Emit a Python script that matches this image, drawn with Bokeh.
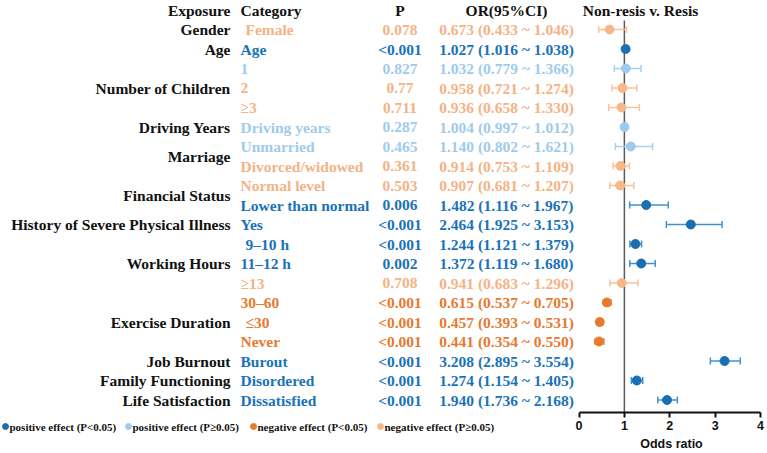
import numpy as np
from bokeh.plotting import figure
from bokeh.layouts import row, column
from bokeh.models import Range1d, LinearAxis, FixedTicker, ColumnDataSource
from bokeh.core.properties import value
from bokeh.embed import file_html
from bokeh.resources import INLINE

# ---- data -------------------------------------------------------------
groups = ["Gender", "Age", "Number of Children", "Driving Years", "Marriage",
          "Financial Status", "History of Severe Physical Illness",
          "Working Hours", "Exercise Duration", "Job Burnout",
          "Family Functioning", "Life Satisfaction"]
group_sizes = [1, 1, 3, 1, 2, 2, 1, 3, 3, 1, 1, 1]

categories = ["Female", "Age", "1", "2", "≥3", "Driving years", "Unmarried",
              "Divorced/widowed", "Normal level", "Lower than normal", "Yes",
              "9–10 h", "11–12 h", "≥13", "30–60", "≤30", "Never", "Burout",
              "Disordered", "Dissatisfied"]
p_values = ["0.078", "<0.001", "0.827", "0.77", "0.711", "0.287", "0.465",
            "0.361", "0.503", "0.006", "<0.001", "<0.001", "0.002", "0.708",
            "<0.001", "<0.001", "<0.001", "<0.001", "<0.001", "<0.001"]
odds = [0.673, 1.027, 1.032, 0.958, 0.936, 1.004, 1.140, 0.914, 0.907, 1.482,
        2.464, 1.244, 1.372, 0.941, 0.615, 0.457, 0.441, 3.208, 1.274, 1.940]
ci_low = [0.433, 1.016, 0.779, 0.721, 0.658, 0.997, 0.802, 0.753, 0.681, 1.116,
          1.925, 1.121, 1.119, 0.683, 0.537, 0.393, 0.354, 2.895, 1.154, 1.736]
ci_high = [1.046, 1.038, 1.366, 1.274, 1.330, 1.012, 1.621, 1.109, 1.207, 1.967,
           3.153, 1.379, 1.680, 1.296, 0.705, 0.531, 0.550, 3.554, 1.405, 2.168]
or_ticks = [0, 1, 2, 3, 4]

effect_names = ["positive effect (P<0.05)", "positive effect (P≥0.05)",
                "negative effect (P<0.05)", "negative effect (P≥0.05)"]
text_colors = ["#1a73b8", "#9fcbeb", "#e67a30", "#f4b386"]
bar_colors = ["#3f93d2", "#a8d1ef", "#ee8c48", "#f7c29c"]
dot_colors = ["#1a6fb3", "#9fcbeb", "#e87a2e", "#f6b888"]

# ---- derived columns ----------------------------------------------------
n = len(categories)
rows = np.arange(n)


def p_num(s):
    return 0.0005 if s.startswith("<") else float(s)


# effect class: 0 pos/sig, 1 pos/ns, 2 neg/sig, 3 neg/ns
eff = [(0 if o >= 1 else 2) + (0 if p_num(ps) < 0.05 else 1)
       for o, ps in zip(odds, p_values)]

fmt = lambda v: f"{v:.3f}"
or_text = [f"{fmt(o)} ({fmt(l)} ~ {fmt(h)})" for o, l, h in zip(odds, ci_low, ci_high)]

# group label rows sit in the middle of their block
g_rows, start = [], 0
for size in group_sizes:
    g_rows.append(start + (size - 1) / 2)
    start += size

# ---- layout constants (pixels) -------------------------------------------
W, H = 767, 453
SPLIT = 575                      # width of the table panel
BOTTOM = 41                      # room for the odds-ratio axis
row0_px, row_step = 29.0, 19.5
frame_h = H - BOTTOM
or0_px, or4_px = 578.5, 760.0
px_per = (or4_px - or0_px) / 4
header_row = (10 - row0_px) / row_step
y_top = -row0_px / row_step
y_bot = (frame_h - row0_px) / row_step

SERIF = value("Liberation Serif")
FS = "15.5px"
INK = "#111111"

# ---- table panel ------------------------------------------------------------
t = figure(width=SPLIT, height=frame_h, output_backend="svg", toolbar_location=None,
           x_range=Range1d(0, SPLIT), y_range=Range1d(y_bot, y_top),
           x_axis_type=None, y_axis_type=None, min_border=0)
t.outline_line_color = None

hdr = dict(text_font=SERIF, text_font_style="bold", text_font_size=FS,
           text_baseline="middle", text_color=INK)
t.text(x=[230], y=[header_row], text=["Exposure"], text_align="right", **hdr)
t.text(x=[240], y=[header_row], text=["Category"], text_align="left", **hdr)
t.text(x=[399.5], y=[header_row], text=["P"], text_align="center", **hdr)
t.text(x=[506], y=[header_row], text=["OR(95%CI)"], text_align="center", **hdr)
t.text(x=[230] * len(groups), y=g_rows, text=groups, text_align="right", **hdr)

indented = {"Female", "9–10 h", "≤30"}
cat_x = [245 if c in indented else 240 for c in categories]
tsrc = ColumnDataSource(dict(y=rows, cat=categories, cx=cat_x, pv=p_values,
                             ort=or_text, col=[text_colors[k] for k in eff]))
body = dict(source=tsrc, text_font=SERIF, text_font_style="bold",
            text_font_size=FS, text_baseline="middle", text_color="col")
t.text(x="cx", y="y", text="cat", text_align="left", **body)
t.text(x=399.5, y="y", text="pv", text_align="center", **body)
t.text(x=506, y="y", text="ort", text_align="center", **body)

# ---- key panel under the table ---------------------------------------------
k = figure(width=SPLIT, height=BOTTOM, output_backend="svg", toolbar_location=None,
           x_range=Range1d(0, SPLIT), y_range=Range1d(BOTTOM, 0),
           x_axis_type=None, y_axis_type=None, min_border=0)
k.outline_line_color = None
leg_x = [5, 128, 253, 380]
leg_y = [14] * 4
k.scatter(x=leg_x, y=leg_y, marker="circle", size=6,
          fill_color=dot_colors, line_color=dot_colors)
k.text(x=[x + 4 for x in leg_x], y=leg_y, text=effect_names,
       text_font=SERIF, text_font_style="bold", text_font_size="11px",
       text_baseline="middle", text_align="left", text_color=INK)

# ---- forest plot -------------------------------------------------------------
p = figure(width=W - SPLIT, height=H, output_backend="svg", toolbar_location=None,
           x_range=Range1d((SPLIT - or0_px) / px_per, (W - or0_px) / px_per),
           y_range=Range1d(y_bot, y_top),
           x_axis_type=None, y_axis_type=None,
           min_border_left=0, min_border_right=0, min_border_top=0,
           min_border_bottom=BOTTOM)
p.outline_line_color = None

p.text(x=[(640 - or0_px) / px_per], y=[header_row], text=["Non-resis v. Resis"],
       text_align="center", **hdr)

p.segment(x0=1, y0=(20 - row0_px) / row_step, x1=1, y1=y_bot,
          line_color="#5a5a5a", line_width=1.5)

for c in range(4):
    idx = [i for i in range(n) if eff[i] == c]
    src = ColumnDataSource(dict(y=[rows[i] for i in idx],
                                o=[odds[i] for i in idx],
                                lo=[ci_low[i] for i in idx],
                                hi=[ci_high[i] for i in idx]))
    p.segment(x0="lo", y0="y", x1="hi", y1="y", source=src,
              line_color=bar_colors[c], line_width=1.5)
    for end in ("lo", "hi"):
        p.scatter(x=end, y="y", source=src, marker="dash", angle=np.pi / 2,
                  size=7, line_color=bar_colors[c], line_width=1.5)
    p.scatter(x="o", y="y", source=src, marker="circle", size=9,
              fill_color=dot_colors[c], line_color=dot_colors[c])

axis = LinearAxis(ticker=FixedTicker(ticks=or_ticks), bounds=(0, 4),
                  axis_label="Odds ratio")
axis.axis_line_width = 2
axis.axis_line_color = INK
axis.major_tick_line_width = 2
axis.major_tick_line_color = INK
axis.major_tick_out = 5
axis.major_tick_in = 0
axis.minor_tick_out = 0
axis.minor_tick_in = 0
axis.major_label_standoff = 3
axis.major_label_text_font = "Liberation Sans"
axis.major_label_text_font_style = "bold"
axis.major_label_text_font_size = "12.5px"
axis.major_label_text_color = INK
axis.axis_label_standoff = 4
axis.axis_label_text_font = "Liberation Sans"
axis.axis_label_text_font_style = "bold"
axis.axis_label_text_font_size = "12.5px"
axis.axis_label_text_color = INK
p.add_layout(axis, "below")

layout = row(column(t, k, spacing=0), p, spacing=0)
open("out.html", "w").write(file_html(layout, INLINE))
